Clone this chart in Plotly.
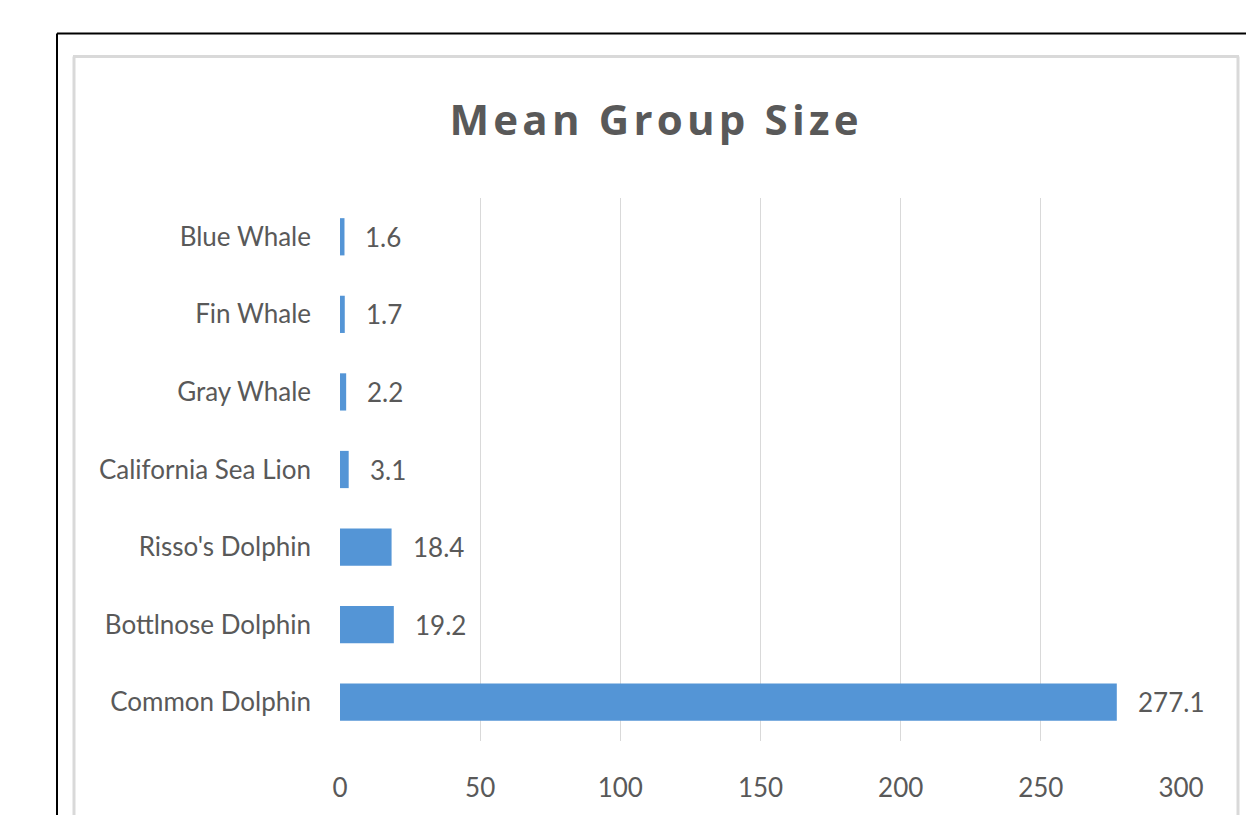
import plotly.graph_objects as go

species = ["Common Dolphin", "Bottlnose Dolphin", "Risso's Dolphin", "California Sea Lion",
           "Gray Whale", "Fin Whale", "Blue Whale"]
group_size = [277.1, 19.2, 18.4, 3.1, 2.2, 1.7, 1.6]
x_ticks = [0, 50, 100, 150, 200, 250, 300]

OFF = 8  # page body margin
W, H = 1254 - OFF, 815 - OFF
L, R, T, B = 340 - OFF, 1181 - OFF, 198 - OFF, 743 - OFF

def px(x):
    return (x - OFF - L) / (R - L)

def py(y):
    return (B - (y - OFF)) / (B - T)

FONT = "Lato"
GREY = "#595959"

fig = go.Figure()
fig.add_trace(go.Bar(
    x=group_size, y=species, orientation="h", width=0.48,
    marker=dict(color="#5495d6", line=dict(width=0)),
    hoverinfo="x+y",
))

for v, s in zip(group_size, species):
    fig.add_annotation(x=v, y=s, text=str(v), showarrow=False, xanchor="left",
                       xshift=19, font=dict(family=FONT, size=26, color=GREY))

shapes = [
    dict(type="line", xref="paper", yref="paper", x0=px(57), x1=px(1270), y0=py(33), y1=py(33),
         line=dict(color="black", width=2)),
    dict(type="line", xref="paper", yref="paper", x0=px(57), x1=px(57), y0=py(33), y1=py(840),
         line=dict(color="black", width=2)),
    dict(type="line", xref="paper", yref="paper", x0=px(73), x1=px(1239), y0=py(56), y1=py(56),
         line=dict(color="#d9d9d9", width=3)),
    dict(type="line", xref="paper", yref="paper", x0=px(74), x1=px(74), y0=py(56), y1=py(840),
         line=dict(color="#d9d9d9", width=3)),
    dict(type="line", xref="paper", yref="paper", x0=px(1238), x1=px(1238), y0=py(56), y1=py(840),
         line=dict(color="#d9d9d9", width=3)),
]

title_text = "\u200a".join("Mean Group Size")

fig.update_layout(
    width=W, height=H,
    margin=dict(l=L, r=W - R, t=T, b=H - B, pad=0),
    paper_bgcolor="white", plot_bgcolor="white",
    showlegend=False,
    shapes=shapes,
    title=dict(text="<b>" + title_text + "</b>",
               x=(654 - OFF) / W, xanchor="center", y=1 - (120 - OFF) / H, yanchor="middle",
               font=dict(family="Open Sans", size=42, color=GREY)),
    xaxis=dict(range=[0, 300], tickvals=x_ticks, showgrid=True, gridcolor="#d9d9d9", gridwidth=1,
               zeroline=False, showline=False, ticks="", ticklabelstandoff=29,
               tickfont=dict(family=FONT, size=26, color=GREY)),
    yaxis=dict(showgrid=False, zeroline=False, showline=False, ticks="", ticklabelstandoff=28,
               tickfont=dict(family=FONT, size=26, color=GREY), range=[-0.5, 6.5]),
)

fig.write_html("out.html")
